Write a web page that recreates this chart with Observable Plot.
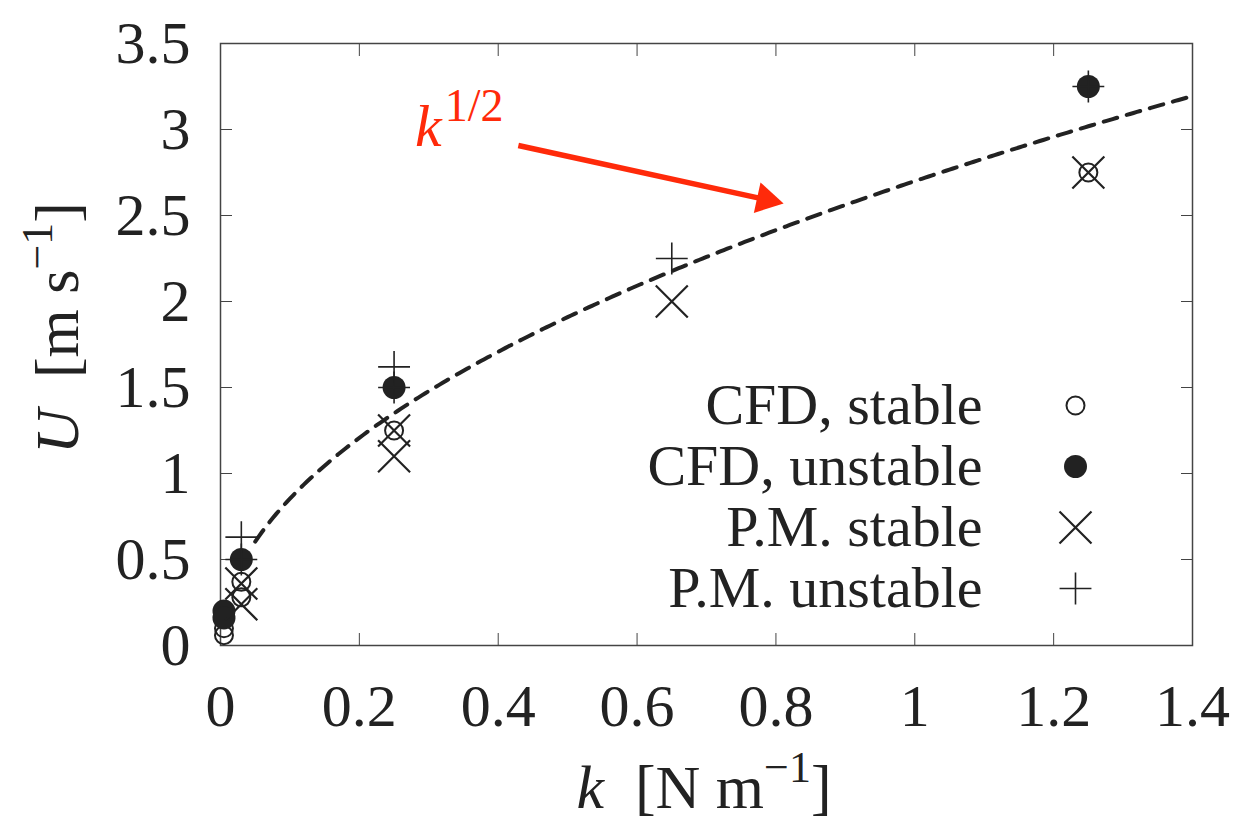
<!DOCTYPE html>
<html><head><meta charset="utf-8">
<script src="https://cdn.jsdelivr.net/npm/d3@7"></script>
<script src="https://cdn.jsdelivr.net/npm/@observablehq/plot@0.6"></script>
<style>
body{margin:0;background:#fff}
#chart{position:relative;width:1257px;height:829px}
</style>
</head><body><div id="chart"></div>
<script>
// ---- data ----
const xTicks = [0, 0.2, 0.4, 0.6, 0.8, 1, 1.2, 1.4];
const yTicks = [0, 0.5, 1, 1.5, 2, 2.5, 3, 3.5];

const cfdStableK = [0.005, 0.005, 0.03, 0.03, 0.25, 1.25];
const cfdStableU = [0.10, 0.06, 0.37, 0.28, 1.25, 2.75];

const cfdUnstableK = [0.005, 0.005, 0.03, 0.25, 1.25];
const cfdUnstableU = [0.20, 0.16, 0.50, 1.50, 3.25];

const pmStableK = [0.03, 0.03, 0.25, 0.25, 0.65, 1.25];
const pmStableU = [0.36, 0.24, 1.25, 1.10, 2.00, 2.75];

const pmUnstableK = [0.03, 0.03, 0.25, 0.25, 0.65, 1.25];
const pmUnstableU = [0.63, 0.50, 1.62, 1.50, 2.25, 3.25];

// k^{1/2} fit curve: U = fitCoef * sqrt(k)
const fitCoef = 2.7;
const fitKRange = [0.05, 1.4];

const legendLabels = ["CFD, stable", "CFD, unstable", "P.M. stable", "P.M. unstable"];

// annotation (data coords)
const annLabel = {x: 0.281, y: 2.90};
const annArrow = {x1: 0.429, y1: 2.907, x2: 0.811, y2: 2.57};

// ---- helpers ----
const toRows = (ks, us) => ks.map((k, i) => ({k, u: us[i]}));
const cfdStable = toRows(cfdStableK, cfdStableU);
const cfdUnstable = toRows(cfdUnstableK, cfdUnstableU);
const pmStable = toRows(pmStableK, pmStableU);
const pmUnstable = toRows(pmUnstableK, pmUnstableU);
const fitK = d3.range(fitKRange[0], fitKRange[1] + 1e-9, 0.005);
const fitRows = fitK.map(k => ({k, u: fitCoef * Math.sqrt(k)}));

const INK = "#222";
const RED = "#ff2a0a";
const FONT = "Liberation Serif, 'DejaVu Serif', serif";
const W = 1257, H = 829;
const M = {left: 220, right: 65, top: 43, bottom: 184};

const symbolSpecs = [
  {symbol: "circle", r: 9, fill: "none", stroke: INK, strokeWidth: 2},
  {symbol: "circle", r: 11.5, fill: INK, stroke: "none", strokeWidth: 0},
  {symbol: "times", r: 14.6, fill: "none", stroke: INK, strokeWidth: 2.2},
  {symbol: "plus", r: 10.3, fill: "none", stroke: INK, strokeWidth: 1.6}
];
const seriesRows = [cfdStable, cfdUnstable, pmStable, pmUnstable];

function build(arrowParts) {
  const legendRowDy = [362, 423, 484, 545];
  const marks = [
    Plot.frame({stroke: "#444", strokeWidth: 1.5}),
    Plot.axisX({anchor: "bottom", ticks: xTicks, tickSize: 0, tickPadding: 38,
      tickFormat: d => String(d), fontSize: 60, fill: INK, label: null}),
    Plot.axisY({anchor: "left", ticks: yTicks, tickSize: 0, tickPadding: 30,
      tickFormat: d => String(d), fontSize: 60, fill: INK, label: null}),
    Plot.axisX({anchor: "bottom", ticks: xTicks, tickSize: -12, text: null, stroke: "#444", label: null}),
    Plot.axisX({anchor: "top", ticks: xTicks, tickSize: -12, text: null, stroke: "#444", label: null}),
    Plot.axisY({anchor: "left", ticks: yTicks, tickSize: -12, text: null, stroke: "#444", label: null}),
    Plot.axisY({anchor: "right", ticks: yTicks, tickSize: -12, text: null, stroke: "#444", label: null}),
    Plot.line(fitRows, {x: "k", y: "u", stroke: INK, strokeWidth: 4, strokeDasharray: "14,10"}),
    ...seriesRows.map((rows, i) => Plot.dot(rows, {x: "k", y: "u", ...symbolSpecs[i]})),
    // legend
    ...legendLabels.map((lab, i) => Plot.text([lab], {text: d => d, frameAnchor: "top-right",
      dx: -210, dy: legendRowDy[i], textAnchor: "end", lineAnchor: "middle", fontSize: 58, fill: INK})),
    ...symbolSpecs.map((s, i) => Plot.dot([0], {frameAnchor: "top-right", dx: -117, dy: legendRowDy[i], ...s}))
  ];
  if (arrowParts) {
    marks.push(Plot.link([arrowParts.shaft], {x1: "x1", y1: "y1", x2: "x2", y2: "y2",
      stroke: RED, strokeWidth: 5.5, strokeLinecap: "butt"}));
    marks.push(Plot.dot([arrowParts.head], {x: "x", y: "y", symbol: "triangle", r: 11.6,
      fill: RED, stroke: "none", rotate: arrowParts.rotate}));
  }
  return Plot.plot({
    width: W, height: H,
    marginLeft: M.left, marginRight: M.right, marginTop: M.top, marginBottom: M.bottom,
    x: {domain: [0, 1.4]},
    y: {domain: [0, 3.5]},
    style: {fontFamily: FONT, background: "#fff", color: INK, overflow: "visible"},
    marks
  });
}

// first pass to read scales
const p0 = build(null);
const sx = p0.scale("x"), sy = p0.scale("y");
const ax1 = sx.apply(annArrow.x1), ay1 = sy.apply(annArrow.y1);
const ax2 = sx.apply(annArrow.x2), ay2 = sy.apply(annArrow.y2);
const len = Math.hypot(ax2 - ax1, ay2 - ay1);
const ux = (ax2 - ax1) / len, uy = (ay2 - ay1) / len;
const headLen = 27;
const hx = ax2 - ux * 18, hy = ay2 - uy * 18; // triangle centroid
const bx = ax2 - ux * (headLen - 2), by = ay2 - uy * (headLen - 2);
const rotate = Math.atan2(uy, ux) * 180 / Math.PI + 90;
const arrowParts = {
  shaft: {x1: annArrow.x1, y1: annArrow.y1, x2: sx.invert(bx), y2: sy.invert(by)},
  head: {x: sx.invert(hx), y: sy.invert(hy)},
  rotate
};
const plot = build(arrowParts);
document.getElementById("chart").appendChild(plot);

// text labels with italic/superscripts
const svg = d3.select(plot);
const psx = plot.scale("x"), psy = plot.scale("y");

// k^{1/2} annotation
const ann = svg.append("text")
  .attr("x", psx.apply(annLabel.x)).attr("y", psy.apply(annLabel.y))
  .attr("text-anchor", "start")
  .attr("fill", RED).attr("font-family", FONT).attr("font-size", 60);
ann.append("tspan").attr("font-style", "italic").text("k");
ann.append("tspan").attr("dx", 3).attr("dy", -25).attr("font-size", 46).text("1/2");

// x-axis label
const xl = svg.append("text")
  .attr("x", (M.left + W - M.right) / 2 - 2).attr("y", 808)
  .attr("text-anchor", "middle").attr("fill", INK).attr("font-family", FONT).attr("font-size", 62);
xl.append("tspan").attr("font-style", "italic").text("k");
xl.append("tspan").text("  [N m");
xl.append("tspan").attr("dy", -26).attr("font-size", 44).text("\u22121");
xl.append("tspan").attr("dy", 26).text("]");

// y-axis label
const yl = svg.append("text")
  .attr("transform", `translate(78,${(M.top + H - M.bottom) / 2 - 16}) rotate(-90)`)
  .attr("text-anchor", "middle").attr("fill", INK).attr("font-family", FONT).attr("font-size", 62);
yl.append("tspan").attr("font-style", "italic").text("U");
yl.append("tspan").text("  [m s");
yl.append("tspan").attr("dy", -26).attr("font-size", 44).text("\u22121");
yl.append("tspan").attr("dy", 26).text("]");
</script>
</body></html>
